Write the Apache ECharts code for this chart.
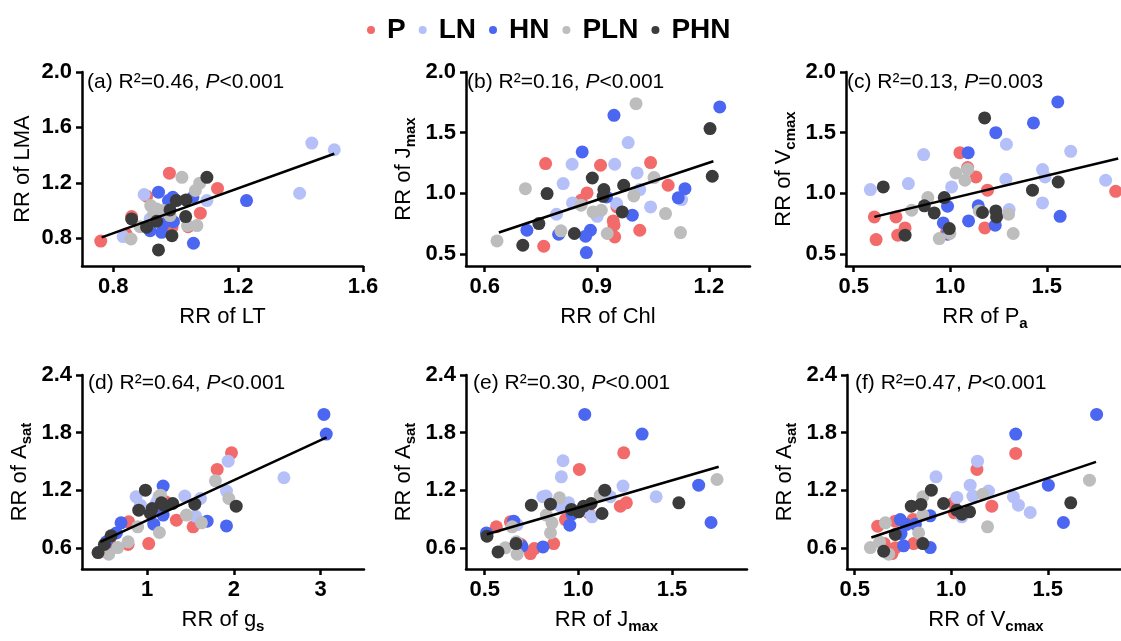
<!DOCTYPE html>
<html><head><meta charset="utf-8">
<script src="https://cdn.jsdelivr.net/npm/echarts@6/dist/echarts.min.js"></script>
<style>html,body{margin:0;padding:0;background:#fff}#c{width:1121px;height:641px}</style>
</head><body><div id="c"></div>
<script>
// ---------- DATA ----------
const groups = ['P', 'LN', 'HN', 'PLN', 'PHN'];

// (a) RR of LT vs RR of LMA
const a_P   = [[0.76,0.78],[0.98,1.27],[1.134,1.16],[0.907,1.104],[1.079,0.981],[1.04,0.884],[0.988,0.88],[0.859,0.957],[0.841,0.831]];
const a_LN  = [[1.436,1.487],[1.508,1.439],[1.397,1.125],[1.10,1.072],[0.899,1.116],[0.832,0.812],[0.918,0.94]];
const a_HN  = [[1.227,1.072],[1.055,1.096],[0.991,1.096],[0.977,1.072],[0.945,1.133],[0.993,0.92],[0.961,0.904],[0.918,0.855],[0.955,0.843],[1.057,0.764]];
const a_PLN = [[1.02,1.24],[1.077,1.198],[1.063,1.145],[0.92,1.036],[0.939,1.012],[0.961,1.0],[0.982,0.964],[1.038,0.892],[1.068,0.892],[0.886,0.884],[0.857,0.795],[0.929,0.976]];
const a_PHN = [[1.10,1.24],[1.033,1.077],[1.002,1.072],[0.982,1.005],[1.032,0.957],[0.939,0.923],[0.907,0.88],[0.988,0.819],[0.945,0.716],[0.859,0.94]];
const a_fit = [[0.763,0.807],[1.508,1.41]];

// (b) RR of Chl vs RR of Jmax
const b_P   = [[0.758,0.563],[0.763,1.245],[0.858,0.942],[0.874,1.003],[0.91,1.231],[0.944,0.772],[0.946,0.736],[0.948,0.64],[0.954,0.887],[1.015,0.695],[1.044,1.253],[1.091,1.066]];
const b_LN  = [[0.81,1.08],[0.792,0.827],[0.834,1.239],[0.835,0.92],[0.901,0.81],[0.948,1.239],[0.953,0.915],[0.984,1.418],[1.008,1.168],[1.015,1.03],[1.044,0.887],[1.127,0.948]];
const b_HN  = [[0.713,0.695],[0.798,0.662],[0.861,1.341],[0.883,0.695],[0.87,0.646],[0.872,0.511],[0.926,0.97],[0.946,1.643],[0.995,0.819],[1.118,0.962],[1.136,1.038],[1.229,1.712]];
const b_PLN = [[0.633,0.607],[0.709,1.038],[0.804,0.69],[0.858,0.901],[0.89,0.846],[0.912,0.86],[0.928,0.668],[0.999,0.978],[1.005,1.739],[1.053,1.129],[1.084,0.832],[1.124,0.676]];
const b_PHN = [[0.702,0.571],[0.745,0.75],[0.767,0.997],[0.84,0.668],[0.888,1.126],[0.919,1.03],[0.917,0.975],[0.968,0.846],[0.972,1.066],[1.203,1.533],[1.209,1.14]];
const b_fit = [[0.638,0.676],[1.212,1.264]];

// (c) RR of Pa vs RR of Vcmax
const c_P   = [[0.607,0.805],[0.616,0.618],[0.719,0.805],[0.728,0.654],[0.766,0.714],[0.981,0.681],[1.05,1.335],[1.09,1.212],[1.133,1.135],[1.179,0.714],[1.193,1.025],[1.857,1.016]];
const c_LN  = [[0.586,1.03],[0.783,1.08],[0.862,1.319],[1.007,1.052],[1.291,1.404],[1.288,1.115],[1.305,0.865],[1.478,1.195],[1.491,1.135],[1.478,0.92],[1.624,1.346],[1.805,1.107]];
const c_HN  = [[0.964,0.755],[0.986,0.893],[0.986,0.662],[1.093,1.335],[1.095,0.772],[1.145,0.896],[1.236,1.5],[1.233,0.736],[1.431,1.58],[1.557,1.753],[1.569,0.81]];
const c_PLN = [[0.8,0.86],[0.884,0.964],[0.943,0.626],[0.998,0.668],[1.029,1.168],[1.09,1.198],[1.076,1.107],[1.15,0.854],[1.302,0.827],[1.326,0.668]];
const c_PHN = [[0.653,1.052],[0.766,0.654],[0.866,0.896],[0.917,0.838],[0.969,0.964],[0.995,0.709],[1.167,0.841],[1.178,1.621],[1.236,0.854],[1.24,0.805],[1.426,1.025],[1.559,1.093]];
const c_fit = [[0.607,0.805],[1.87,1.286]];

// (d) RR of gs vs RR of Asat
const d_P   = [[0.531,0.558],[0.577,0.635],[0.781,0.635],[0.788,0.871],[1.019,0.645],[1.115,1.027],[1.212,1.079],[1.338,0.888],[1.531,0.819],[1.808,1.417],[1.973,1.59]];
const d_LN  = [[0.873,1.132],[0.923,1.045],[1.108,1.069],[1.135,1.132],[1.435,1.139],[1.558,0.93],[1.615,1.114],[1.935,1.503],[1.915,1.191],[2.577,1.33]];
const d_HN  = [[0.531,0.663],[0.646,0.756],[0.7,0.861],[1.077,0.847],[1.185,1.243],[1.185,0.941],[1.692,0.878],[1.915,0.829],[3.038,1.99],[3.065,1.785]];
const d_PLN = [[0.558,0.534],[0.662,0.603],[0.781,0.663],[0.892,0.819],[1.154,1.149],[1.142,0.76],[1.454,0.941],[1.627,0.861],[1.788,1.298],[1.942,1.114]];
const d_PHN = [[0.435,0.551],[0.508,0.635],[0.585,0.725],[0.904,0.993],[0.981,1.201],[1.038,0.958],[1.058,1.01],[1.165,1.069],[1.192,1.045],[1.296,1.062],[1.55,1.055],[2.027,1.034]];
const d_fit = [[0.462,0.663],[3.069,1.75]];

// (e) RR of Jmax vs RR of Asat
const e_P   = [[0.562,0.819],[0.637,0.871],[0.694,0.635],[0.744,0.541],[0.765,0.593],[0.868,0.645],[0.931,0.895],[1.005,1.417],[1.055,0.965],[1.224,1.034],[1.256,1.069],[1.242,1.59]];
const e_LN  = [[0.673,0.843],[0.81,1.132],[0.827,1.139],[0.904,1.034],[0.909,1.34],[0.918,1.507],[0.948,1.069],[1.028,0.993],[1.073,0.923],[1.171,1.132],[1.238,1.243],[1.415,1.132]];
const e_HN  = [[0.509,0.756],[0.655,0.878],[0.699,0.617],[0.811,0.61],[0.954,0.836],[0.966,0.951],[1.034,1.99],[1.34,1.785],[1.642,1.253],[1.708,0.864]];
const e_PLN = [[0.61,0.6],[0.646,0.819],[0.669,0.663],[0.673,0.534],[0.829,0.941],[0.851,0.756],[0.859,0.861],[0.899,1.121],[1.117,1.149],[1.74,1.312]];
const e_PHN = [[0.512,0.722],[0.571,0.558],[0.667,0.645],[0.749,1.045],[0.851,1.055],[0.963,1.0],[1.002,0.975],[1.028,1.034],[1.068,1.062],[1.141,1.201],[1.126,0.958],[1.536,1.069]];
const e_fit = [[0.512,0.742],[1.749,1.444]];

// (f) RR of Vcmax vs RR of Asat
const f_P   = [[0.619,0.826],[0.653,0.645],[0.693,0.541],[0.71,0.878],[0.71,0.6],[0.802,0.895],[0.805,0.645],[1.012,1.069],[1.016,0.965],[1.133,1.417],[1.21,1.034],[1.334,1.583]];
const f_LN  = [[0.921,1.34],[1.029,1.125],[1.055,0.923],[1.098,1.253],[1.112,1.139],[1.136,1.503],[1.193,1.191],[1.322,1.132],[1.348,1.045],[1.409,0.968]];
const f_HN  = [[0.736,0.895],[0.74,0.749],[0.753,0.621],[0.766,0.843],[0.814,0.847],[0.891,0.603],[0.891,0.934],[1.334,1.785],[1.503,1.253],[1.581,0.864],[1.753,1.99]];
const f_PLN = [[0.581,0.603],[0.659,0.861],[0.629,0.663],[0.676,0.534],[0.831,0.756],[0.853,1.132],[0.853,0.941],[1.164,1.159],[1.188,0.819],[1.716,1.305]];
const f_PHN = [[0.65,0.565],[0.71,0.739],[0.793,1.034],[0.843,1.052],[0.853,0.645],[0.897,1.201],[0.96,1.062],[1.029,0.993],[1.055,0.951],[1.095,0.975],[1.619,1.069]];
const f_fit = [[0.586,0.708],[1.75,1.496]];

// tick labels
const a_xTicks = ['0.8','1.2','1.6'];
const b_xTicks = ['0.6','0.9','1.2'];
const c_xTicks = ['0.5','1.0','1.5'];
const d_xTicks = ['1','2','3'];
const e_xTicks = ['0.5','1.0','1.5'];
const f_xTicks = ['0.5','1.0','1.5'];
const a_yTicks = ['0.8','1.2','1.6','2.0'];
const bc_yTicks = ['0.5','1.0','1.5','2.0'];
const def_yTicks = ['0.6','1.2','1.8','2.4'];

// axis ranges [min, max]
const a_xRange = [0.7, 1.6],  b_xRange = [0.55, 1.31], c_xRange = [0.46, 1.9];
const d_xRange = [0.25, 3.5], e_xRange = [0.4, 1.9],   f_xRange = [0.46, 1.9];
const a_yRange = [0.6, 2.0], bc_yRange = [0.4, 2.0], def_yRange = [0.38, 2.4];

// annotations: label, R2, P-text
const notes = [
  ['(a)', '0.46', '<0.001'], ['(b)', '0.16', '<0.001'], ['(c)', '0.13', '=0.003'],
  ['(d)', '0.64', '<0.001'], ['(e)', '0.30', '<0.001'], ['(f)', '0.47', '<0.001']
];
// axis titles: [main, subscript]
const xNames = [['RR of LT',''],['RR of Chl',''],['RR of P','a'],['RR of g','s'],['RR of J','max'],['RR of V','cmax']];
const yNames = [['RR of LMA',''],['RR of J','max'],['RR of V','cmax'],['RR of A','sat'],['RR of A','sat'],['RR of A','sat']];

// ---------- LAYOUT / STYLE ----------
const colors = ['#F26A6A', '#B4C0F7', '#4B66F0', '#BDBDBD', '#3B3B3B'];
const panels = [
  {data:[a_P,a_LN,a_HN,a_PLN,a_PHN], fit:a_fit, xt:a_xTicks, yt:a_yTicks, xr:a_xRange, yr:a_yRange, grid:{left:82, top:72, width:281, height:194}, note:[87,72]},
  {data:[b_P,b_LN,b_HN,b_PLN,b_PHN], fit:b_fit, xt:b_xTicks, yt:bc_yTicks, xr:b_xRange, yr:bc_yRange, grid:{left:466, top:72, width:284, height:194}, note:[467,72]},
  {data:[c_P,c_LN,c_HN,c_PLN,c_PHN], fit:c_fit, xt:c_xTicks, yt:bc_yTicks, xr:c_xRange, yr:bc_yRange, grid:{left:846, top:72, width:278, height:194}, note:[847,72]},
  {data:[d_P,d_LN,d_HN,d_PLN,d_PHN], fit:d_fit, xt:d_xTicks, yt:def_yTicks, xr:d_xRange, yr:def_yRange, grid:{left:82, top:375, width:282, height:194}, note:[88,373]},
  {data:[e_P,e_LN,e_HN,e_PLN,e_PHN], fit:e_fit, xt:e_xTicks, yt:def_yTicks, xr:e_xRange, yr:def_yRange, grid:{left:466, top:375, width:281, height:194}, note:[473,373]},
  {data:[f_P,f_LN,f_HN,f_PLN,f_PHN], fit:f_fit, xt:f_xTicks, yt:def_yTicks, xr:f_xRange, yr:def_yRange, grid:{left:847, top:375, width:278, height:194}, note:[855,373]}
];

const FONT = '"Liberation Sans", Arial, sans-serif';
const nameRich = {
  n: {fontSize: 22, fontFamily: FONT, color: '#000', lineHeight: 22, verticalAlign: 'top'},
  s: {fontSize: 15, fontFamily: FONT, fontWeight: 'bold', color: '#000', lineHeight: 25, verticalAlign: 'bottom'}
};
function richName(pair) { return '{n|' + pair[0] + '}' + (pair[1] ? '{s|' + pair[1] + '}' : ''); }
function labelFrom(list) {
  return function (v) {
    for (const l of list) if (Math.abs(Number(l) - v) < 1e-9) return l;
    return '';
  };
}
const axisLine = {show: true, onZero: false, lineStyle: {color: '#000', width: 2.5}};
const axisTick = (vals) => ({show: true, inside: false, length: 6, lineStyle: {color: '#000', width: 2.5}, customValues: vals});
const tickFont = {color: '#000', fontSize: 22, fontWeight: 'bold', fontFamily: FONT};

const grids = [], xAxes = [], yAxes = [], series = [], titles = [];
panels.forEach((p, i) => {
  grids.push(Object.assign({outerBoundsMode: 'none', containLabel: false}, p.grid));
  const xv = p.xt.map(Number), yv = p.yt.map(Number);
  xAxes.push({
    type: 'value', gridIndex: i, min: p.xr[0], max: p.xr[1],
    axisLine, axisTick: axisTick(xv), splitLine: {show: false},
    axisLabel: Object.assign({margin: 10, customValues: xv, formatter: labelFrom(p.xt)}, tickFont),
    name: richName(xNames[i]), nameLocation: 'middle', nameGap: 40, nameMoveOverlap: false,
    nameTextStyle: {rich: nameRich}
  });
  yAxes.push({
    type: 'value', gridIndex: i, min: p.yr[0], max: p.yr[1],
    axisLine, axisTick: axisTick(yv), splitLine: {show: false},
    axisLabel: Object.assign({margin: 10, customValues: yv, formatter: labelFrom(p.yt)}, tickFont),
    name: richName(yNames[i]), nameLocation: 'middle', nameGap: 48, nameMoveOverlap: false,
    nameTextStyle: {rich: nameRich}
  });
  p.data.forEach((pts, g) => {
    series.push({
      type: 'scatter', name: groups[g], xAxisIndex: i, yAxisIndex: i, data: pts,
      symbol: 'circle', symbolSize: 13, itemStyle: {color: colors[g], opacity: 1},
      emphasis: {disabled: true}, z: 2
    });
  });
  series.push({
    type: 'line', xAxisIndex: i, yAxisIndex: i, data: p.fit, symbol: 'none',
    lineStyle: {color: '#000', width: 2.5}, silent: true, z: 5, emphasis: {disabled: true}
  });
  const nt = notes[i];
  titles.push({
    left: p.note[0], top: p.note[1], padding: 0,
    text: nt[0] + ' R²=' + nt[1] + ', {i|P}' + nt[2],
    textStyle: {fontSize: 21, fontWeight: 'normal', color: '#000', fontFamily: FONT,
      rich: {i: {fontStyle: 'italic', fontSize: 21, color: '#000', fontFamily: FONT}}}
  });
});

const chart = echarts.init(document.getElementById('c'), null, {renderer: 'canvas'});
chart.setOption({
  animation: false,
  backgroundColor: '#fff',
  title: titles,
  legend: {
    data: groups, left: 362, top: 11, icon: 'circle', itemWidth: 8, itemHeight: 8, itemGap: 13,
    textStyle: {fontSize: 28, fontWeight: 'bold', color: '#000', fontFamily: FONT, padding: [0, 0, 0, 7]},
    selectedMode: false
  },
  grid: grids, xAxis: xAxes, yAxis: yAxes, series
});
</script></body></html>
